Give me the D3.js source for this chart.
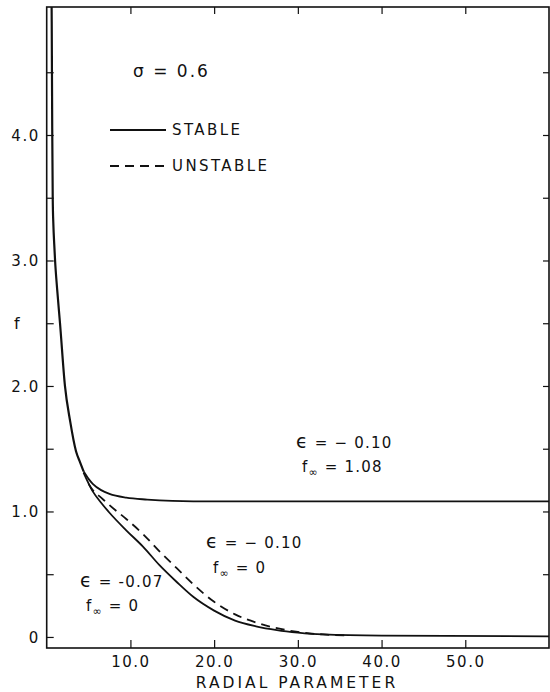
<!DOCTYPE html>
<html>
<head>
<meta charset="utf-8">
<script src="https://cdn.jsdelivr.net/npm/d3@7"></script>
<style>
  body { margin: 0; background: #fff; }
  svg text { font-family: "DejaVu Sans", sans-serif; fill: #111; }
</style>
</head>
<body>
<div id="chart"></div>
<script>
// radial parameter r and field f
var steepR = [0.55, 0.6, 0.66, 0.72, 0.8, 0.9, 1.0, 1.25, 1.59, 2.18, 2.8, 3.5, 4.0, 4.4];
var steepF = [5.4, 4.9, 4.05, 3.5, 3.28, 3.13, 3.0, 2.77, 2.5, 2.0, 1.72, 1.48, 1.39, 1.32];

var stableR10 = [4.4, 5.0, 5.5, 6.5, 7.5, 9.5, 12, 15, 20, 30, 60];
var stableF10 = [1.32, 1.26, 1.22, 1.17, 1.14, 1.11, 1.095, 1.085, 1.08, 1.08, 1.08];

var stableR07 = [4.4, 5.5, 6.5, 7.5, 9.5, 11.5, 13.5, 15.5, 17.5, 20, 22.5, 25, 27.5, 30, 33, 40, 60];
var stableF07 = [1.31, 1.16, 1.07, 0.99, 0.85, 0.72, 0.57, 0.44, 0.32, 0.21, 0.13, 0.085, 0.055, 0.035, 0.02, 0.01, 0.005];

var unstableR10 = [5.0, 5.5, 6.5, 7.5, 9.5, 11.5, 13.5, 15.5, 17.5, 20, 22.5, 25, 27.5, 30, 33, 36];
var unstableF10 = [1.22, 1.17, 1.11, 1.05, 0.94, 0.82, 0.68, 0.55, 0.42, 0.28, 0.18, 0.115, 0.07, 0.04, 0.02, 0.012];

var xTicks = [10, 20, 30, 40, 50];
var yTicks = [0, 0.5, 1, 1.5, 2, 2.5, 3, 3.5, 4, 4.5];
var yTicksRight = [0.5, 1, 1.5, 2, 2.5, 3, 3.5, 4, 4.5];

var W = 550, H = 692;
var mL = 46.7, mR = 549, mT = 7, mB = 648;

var svg = d3.select("#chart").append("svg")
    .attr("width", W)
    .attr("height", H);

var x = d3.scaleLinear().domain([0, 60]).range([mL, mR]);
var y = d3.scaleLinear().domain([-0.088, 5.02]).range([mB, mT]);

svg.append("defs").append("clipPath").attr("id", "plot")
   .append("rect")
   .attr("x", mL).attr("y", mT)
   .attr("width", mR - mL).attr("height", mB - mT);

function yFmt(d) {
    if (d % 1 !== 0) return "";
    return d === 0 ? "0" : d.toFixed(1);
}

// axes, ticks pointing inward
var gl = svg.append("g").attr("transform", "translate(" + mL + ",0)")
    .call(d3.axisLeft(y).tickValues(yTicks).tickSizeInner(-7).tickSizeOuter(0).tickPadding(7).tickFormat(yFmt));
var gr = svg.append("g").attr("transform", "translate(" + mR + ",0)")
    .call(d3.axisRight(y).tickValues(yTicksRight).tickSizeInner(-6).tickSizeOuter(0).tickFormat(""));
var gb = svg.append("g").attr("transform", "translate(0," + mB + ")")
    .call(d3.axisBottom(x).tickValues(xTicks).tickSizeInner(-8).tickSizeOuter(0).tickPadding(8).tickFormat(d3.format(".1f")));
var gt = svg.append("g").attr("transform", "translate(0," + mT + ")")
    .call(d3.axisTop(x).tickValues(xTicks).tickSizeInner(-7).tickSizeOuter(0).tickFormat(""));

[gl, gr, gb, gt].forEach(function(g) {
    g.select(".domain").remove();
    g.selectAll(".tick line").attr("stroke", "#111").attr("stroke-width", 1.2);
    g.selectAll(".tick text")
     .style("font-size", "15px")
     .style("letter-spacing", "1.5px")
     .attr("fill", "#111");
});
gl.selectAll(".tick text").attr("dy", "0.36em");

svg.append("rect")
   .attr("x", mL).attr("y", mT)
   .attr("width", mR - mL).attr("height", mB - mT)
   .attr("fill", "none")
   .attr("stroke", "#111")
   .attr("stroke-width", 1.6);

// curves
function pts(rs, fs) { return rs.map(function(r, i) { return [r, fs[i]]; }); }

var line = d3.line()
    .x(function(d) { return x(d[0]); })
    .y(function(d) { return y(d[1]); })
    .curve(d3.curveMonotoneX);

var curves = svg.append("g").attr("clip-path", "url(#plot)");

curves.append("path")
    .attr("d", line(pts(steepR, steepF)))
    .attr("fill", "none").attr("stroke", "#111").attr("stroke-width", 2.2);

curves.append("path")
    .attr("d", line(pts(stableR10, stableF10)))
    .attr("fill", "none").attr("stroke", "#111").attr("stroke-width", 1.8);

curves.append("path")
    .attr("d", line(pts(stableR07, stableF07)))
    .attr("fill", "none").attr("stroke", "#111").attr("stroke-width", 1.8);

curves.append("path")
    .attr("d", line(pts(unstableR10, unstableF10)))
    .attr("fill", "none").attr("stroke", "#111").attr("stroke-width", 1.8)
    .attr("stroke-dasharray", "9,6");

// legend
svg.append("text").attr("x", 133).attr("y", 77)
   .style("font-size", "17px").style("letter-spacing", "2px")
   .text("\u03c3  =  0.6");

svg.append("line").attr("x1", 110).attr("x2", 166).attr("y1", 130).attr("y2", 130)
   .attr("stroke", "#111").attr("stroke-width", 1.8);
svg.append("text").attr("x", 172).attr("y", 135)
   .style("font-size", "15px").style("letter-spacing", "2.4px")
   .text("STABLE");

svg.append("line").attr("x1", 110).attr("x2", 166).attr("y1", 166).attr("y2", 166)
   .attr("stroke", "#111").attr("stroke-width", 1.8)
   .attr("stroke-dasharray", "9,6");
svg.append("text").attr("x", 172).attr("y", 171)
   .style("font-size", "15px").style("letter-spacing", "2.4px")
   .text("UNSTABLE");

// axis titles
svg.append("text").attr("x", 14).attr("y", 329)
   .style("font-size", "16px")
   .text("f");

svg.append("text").attr("x", 297).attr("y", 688)
   .attr("text-anchor", "middle")
   .style("font-size", "15.5px").style("letter-spacing", "3px")
   .text("RADIAL PARAMETER");

// curve annotations
var notes = [
    {x: 296, y: 448, eps: " = \u2212 0.10", fx: 302, fy: 472, finf: " = 1.08"},
    {x: 206, y: 548, eps: " = \u2212 0.10", fx: 213, fy: 573, finf: " = 0"},
    {x: 80, y: 587, eps: " = -0.07", fx: 86, fy: 611, finf: " = 0"}
];

notes.forEach(function(n) {
    var e = svg.append("text").attr("x", n.x).attr("y", n.y)
       .style("font-size", "15px").style("letter-spacing", "1.2px");
    e.append("tspan").style("font-size", "19px").text("\u03f5");
    e.append("tspan").text(n.eps);
    var t = svg.append("text").attr("x", n.fx).attr("y", n.fy)
       .style("font-size", "15px").style("letter-spacing", "1.2px");
    t.append("tspan").text("f");
    t.append("tspan").attr("dy", 4).style("font-size", "11px").text("\u221e");
    t.append("tspan").attr("dy", -4).text(n.finf);
});
</script>
</body>
</html>
